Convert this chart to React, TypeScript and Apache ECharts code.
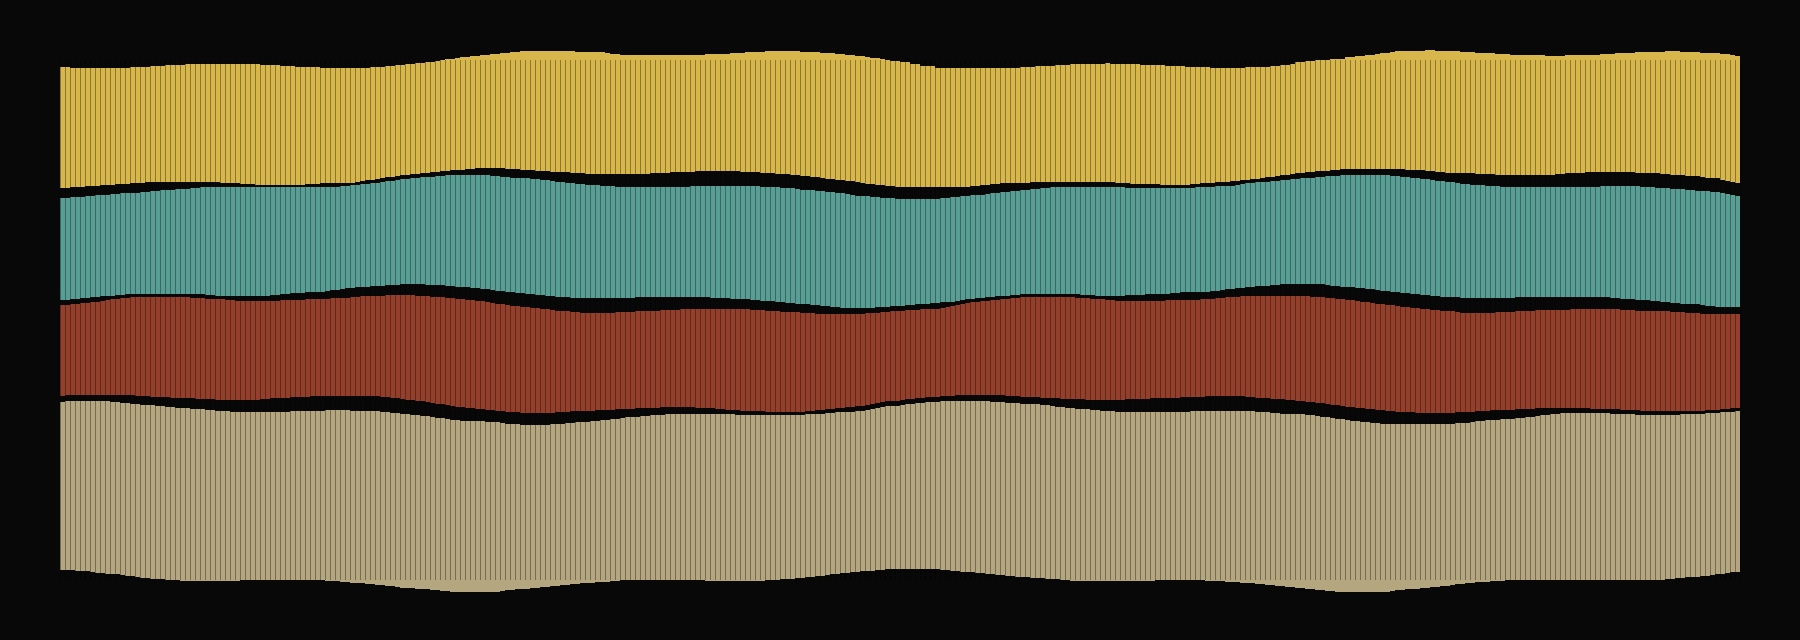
import { useEffect, useRef } from "react";
import * as echarts from "echarts";

// Each run is [level, number of consecutive bars]; levels are read off the picture
// (value axis runs downward: 60 = top of plot, 580 = bottom of plot).
type Run = [number, number];

const BAR_COUNT = 336;
const categories: string[] = Array.from({ length: BAR_COUNT }, (_, i) => `${i + 1}`);

const goldTop: Run[] = [[67,2],[68,12],[67,4],[66,3],[65,4],[64,15],[65,4],[66,3],[67,5],[68,10],[67,3],[66,2],[65,2],[64,2],[63,2],[62,2],[61,1],[60,1],[59,2],[58,1],[57,2],[56,2],[55,2],[54,2],[53,2],[52,2],[51,11],[52,6],[53,1],[54,2],[55,17],[54,5],[53,3],[52,4],[51,7],[52,4],[53,3],[54,2],[55,2],[56,2],[57,1],[58,2],[59,1],[60,1],[61,2],[62,2],[64,2],[66,3],[68,17],[67,3],[66,4],[65,3],[64,7],[63,1],[64,6],[65,5],[66,4],[67,5],[68,7],[67,5],[66,2],[65,2],[64,1],[62,2],[61,2],[60,3],[59,3],[57,2],[56,2],[55,2],[54,1],[53,2],[52,1],[51,6],[50,2],[51,5],[52,3],[53,4],[54,3],[55,7],[56,4],[55,7],[54,3],[53,4],[52,6],[51,3],[52,4],[53,4],[54,2],[55,1],[56,1]];

const goldBottom: Run[] = [[188,2],[187,3],[186,3],[185,3],[184,3],[183,3],[182,15],[183,4],[184,3],[185,10],[184,3],[183,7],[182,1],[181,1],[180,2],[179,1],[178,1],[177,2],[176,1],[175,2],[174,2],[173,2],[172,2],[171,2],[170,3],[169,2],[168,6],[169,3],[170,3],[171,3],[172,4],[173,3],[174,13],[173,4],[172,5],[171,9],[172,4],[173,3],[174,3],[175,2],[176,2],[177,2],[178,1],[179,2],[180,2],[181,2],[182,1],[183,1],[184,2],[185,2],[186,2],[187,15],[186,2],[185,2],[184,2],[183,6],[182,17],[183,3],[184,6],[185,6],[184,2],[183,3],[182,3],[181,2],[180,2],[179,2],[178,1],[177,2],[176,1],[175,2],[174,1],[173,2],[172,2],[171,3],[170,2],[169,13],[170,4],[171,2],[172,2],[173,6],[174,4],[175,12],[174,2],[173,4],[172,10],[173,5],[174,2],[175,3],[176,3],[177,1],[178,3],[180,1],[181,1],[182,1],[183,1]];

const tealTop: Run[] = [[198,2],[197,3],[196,2],[195,3],[194,2],[193,4],[192,2],[191,2],[190,3],[189,3],[188,2],[187,28],[186,2],[185,2],[184,2],[183,2],[182,1],[181,2],[180,1],[179,2],[178,2],[177,3],[176,2],[175,9],[176,2],[177,2],[178,4],[179,2],[180,2],[181,1],[182,2],[183,2],[184,2],[185,3],[186,3],[187,15],[186,14],[187,4],[188,3],[189,1],[190,3],[191,2],[192,2],[193,2],[194,1],[195,1],[196,3],[197,2],[198,3],[199,9],[198,2],[197,2],[196,2],[195,3],[194,1],[193,2],[192,2],[191,2],[190,2],[189,2],[188,2],[187,15],[188,14],[187,4],[186,4],[185,1],[184,1],[183,2],[182,3],[181,2],[180,2],[179,2],[178,3],[177,2],[176,3],[175,10],[176,2],[177,2],[178,2],[179,2],[180,1],[181,2],[182,2],[183,1],[184,2],[185,3],[186,3],[187,20],[186,8],[187,3],[188,3],[189,3],[190,2],[191,3],[192,2],[193,1],[194,1],[195,1],[196,1]];

const tealBottom: Run[] = [[300,2],[299,2],[298,2],[297,2],[296,3],[295,2],[294,16],[295,2],[296,11],[295,2],[294,2],[293,3],[292,4],[291,1],[290,2],[289,1],[288,2],[287,3],[286,3],[285,3],[284,5],[285,4],[286,2],[287,3],[288,2],[289,2],[290,1],[291,2],[292,2],[293,2],[294,2],[295,2],[296,2],[297,3],[298,13],[297,15],[298,4],[299,4],[300,2],[301,3],[302,2],[303,2],[304,3],[305,2],[306,2],[307,2],[308,7],[307,3],[306,3],[305,2],[304,3],[303,2],[302,3],[301,1],[300,1],[299,2],[298,2],[297,2],[296,3],[295,2],[294,12],[295,3],[296,6],[295,4],[294,5],[293,2],[292,6],[291,2],[290,1],[289,2],[288,2],[287,2],[286,3],[285,2],[284,9],[285,1],[286,2],[287,3],[288,2],[289,2],[290,1],[291,2],[292,2],[293,2],[294,2],[295,2],[296,2],[297,4],[298,11],[297,19],[298,2],[299,3],[300,3],[301,2],[302,2],[303,2],[304,4],[305,1],[306,2],[307,5]];

const rustTop: Run[] = [[305,2],[304,2],[303,2],[302,2],[301,1],[300,1],[299,2],[298,2],[297,12],[298,3],[299,4],[300,2],[301,9],[300,5],[299,5],[298,4],[297,2],[296,5],[295,6],[296,3],[297,3],[298,2],[299,2],[300,2],[301,2],[302,1],[303,1],[304,2],[305,1],[306,2],[307,2],[308,2],[309,2],[310,1],[311,3],[312,2],[313,7],[312,4],[311,5],[310,4],[309,14],[310,3],[311,3],[312,4],[313,3],[314,10],[313,3],[312,2],[311,3],[310,3],[309,4],[308,1],[307,1],[306,1],[305,1],[304,1],[303,1],[302,2],[301,2],[300,2],[299,2],[298,2],[297,11],[298,3],[299,3],[300,2],[301,10],[300,7],[299,3],[298,2],[297,3],[296,14],[297,3],[298,2],[299,2],[300,2],[301,1],[302,2],[303,1],[304,2],[305,2],[306,1],[307,2],[308,2],[309,2],[310,2],[311,3],[312,1],[313,7],[312,4],[311,4],[310,7],[309,10],[310,3],[311,7],[312,3],[313,3],[314,8]];

const rustBottom: Run[] = [[396,1],[395,14],[396,3],[397,4],[398,5],[399,4],[400,9],[399,2],[398,4],[397,4],[396,14],[397,2],[398,2],[399,1],[400,2],[401,2],[402,1],[403,1],[404,2],[405,1],[406,1],[407,2],[408,2],[409,2],[410,2],[411,2],[412,3],[413,7],[412,3],[411,5],[410,4],[409,4],[408,5],[407,7],[408,4],[409,2],[410,3],[411,5],[412,8],[411,2],[410,2],[409,2],[408,2],[407,2],[406,2],[405,1],[404,1],[403,1],[402,1],[401,3],[400,1],[399,2],[398,2],[397,3],[396,3],[395,10],[396,3],[397,4],[398,4],[399,5],[400,8],[399,5],[398,6],[397,5],[396,8],[397,2],[398,3],[399,3],[400,2],[401,2],[402,2],[403,2],[404,1],[405,2],[406,1],[407,2],[408,2],[409,2],[410,2],[411,2],[412,4],[413,8],[412,4],[411,3],[410,5],[409,4],[408,11],[409,6],[410,4],[411,13],[410,3],[409,2],[408,2]];

const sandTop: Run[] = [[402,1],[401,9],[402,2],[403,2],[404,2],[405,3],[406,2],[407,2],[408,3],[409,3],[410,2],[411,3],[412,12],[411,7],[410,5],[411,6],[412,2],[413,2],[414,2],[415,2],[416,2],[417,1],[418,2],[419,1],[420,2],[421,5],[422,3],[423,1],[424,3],[425,6],[424,3],[423,2],[422,3],[421,2],[420,2],[419,2],[418,1],[417,3],[416,2],[415,3],[414,14],[415,14],[414,4],[413,2],[412,4],[411,2],[410,1],[409,1],[408,1],[407,1],[406,3],[405,1],[404,2],[403,2],[402,3],[401,10],[402,3],[403,3],[404,4],[405,2],[406,1],[407,2],[408,2],[409,3],[410,2],[411,3],[412,15],[411,13],[412,3],[413,2],[414,5],[415,2],[416,1],[417,2],[418,1],[419,2],[420,1],[421,2],[422,2],[423,2],[424,15],[423,3],[422,1],[421,2],[420,3],[419,3],[418,2],[417,2],[416,1],[415,2],[414,2],[413,10],[414,5],[415,9],[414,5],[413,3],[412,3],[411,1]];

const sandBottom: Run[] = [[570,3],[571,3],[572,1],[573,2],[574,3],[575,1],[576,2],[577,1],[578,2],[579,3],[580,3],[581,12],[580,17],[581,3],[582,2],[583,3],[584,2],[585,2],[586,2],[587,1],[588,3],[589,3],[590,2],[591,2],[592,10],[591,1],[590,2],[589,3],[588,2],[587,2],[586,2],[585,2],[584,2],[583,3],[582,3],[581,2],[580,17],[581,12],[580,3],[579,3],[578,2],[577,2],[576,2],[575,1],[574,2],[573,2],[572,2],[571,3],[570,2],[569,11],[570,2],[571,2],[572,3],[573,2],[574,2],[575,2],[576,2],[577,3],[578,3],[579,3],[580,2],[581,17],[580,10],[581,4],[582,3],[583,3],[584,2],[585,2],[586,2],[587,2],[588,2],[589,2],[590,2],[591,2],[592,11],[591,1],[590,2],[589,3],[588,2],[587,2],[586,2],[585,1],[584,2],[583,2],[582,3],[581,3],[580,32],[579,2],[578,2],[577,3],[576,2],[575,1],[574,2],[573,1],[572,2]];

const COLORS = {
  background: "#080808",
  gold: "#d7b74c",
  teal: "#589e95",
  rust: "#933f2c",
  sand: "#b4a780",
  divider: "rgba(0,0,0,0.35)",
};

function expand(runs: Run[]): number[] {
  const out: number[] = [];
  runs.forEach(([v, n]) => {
    for (let k = 0; k < n; k++) out.push(v);
  });
  while (out.length < BAR_COUNT) out.push(out[out.length - 1]);
  return out.slice(0, BAR_COUNT);
}

function thickness(upper: number[], lower: number[]): number[] {
  return upper.map((v, i) => lower[i] - v);
}

export default function App() {
  const ref = useRef<HTMLDivElement>(null);

  useEffect(() => {
    if (!ref.current) return;
    const chart = echarts.init(ref.current, undefined, { renderer: "svg" });

    const gT = expand(goldTop);
    const gB = expand(goldBottom);
    const tT = expand(tealTop);
    const tB = expand(tealBottom);
    const rT = expand(rustTop);
    const rB = expand(rustBottom);
    const sT = expand(sandTop);
    const sB = expand(sandBottom);

    const bands: { name: string; data: number[]; color: string }[] = [
      { name: "offset", data: gT, color: "rgba(0,0,0,0)" },
      { name: "Gold", data: thickness(gT, gB), color: COLORS.gold },
      { name: "gap-a", data: thickness(gB, tT), color: "rgba(0,0,0,0)" },
      { name: "Teal", data: thickness(tT, tB), color: COLORS.teal },
      { name: "gap-b", data: thickness(tB, rT), color: "rgba(0,0,0,0)" },
      { name: "Rust", data: thickness(rT, rB), color: COLORS.rust },
      { name: "gap-c", data: thickness(rB, sT), color: "rgba(0,0,0,0)" },
      { name: "Sand", data: thickness(sT, sB), color: COLORS.sand },
    ];

    chart.setOption({
      animation: false,
      backgroundColor: COLORS.background,
      grid: { left: 60, right: 60, top: 60, bottom: 60 },
      xAxis: {
        type: "category",
        data: categories,
        boundaryGap: true,
        z: 10,
        axisLine: { show: false },
        axisTick: { show: false, interval: 0 },
        axisLabel: { show: false, interval: 0 },
        splitLine: {
          show: true,
          interval: 0,
          lineStyle: { color: COLORS.divider, width: 1 },
        },
      },
      yAxis: {
        type: "value",
        inverse: true,
        min: 60,
        max: 580,
        show: false,
      },
      series: bands.map((b) => ({
        name: b.name,
        type: "bar",
        stack: "bands",
        stackStrategy: "all",
        data: b.data,
        barCategoryGap: "0%",
        barGap: "0%",
        clip: false,
        silent: true,
        z: 2,
        itemStyle: { color: b.color },
      })),
    });

    return () => chart.dispose();
  }, []);

  return (
    <div
      ref={ref}
      style={{ position: "fixed", left: 0, top: 0, width: 1800, height: 640 }}
    />
  );
}
